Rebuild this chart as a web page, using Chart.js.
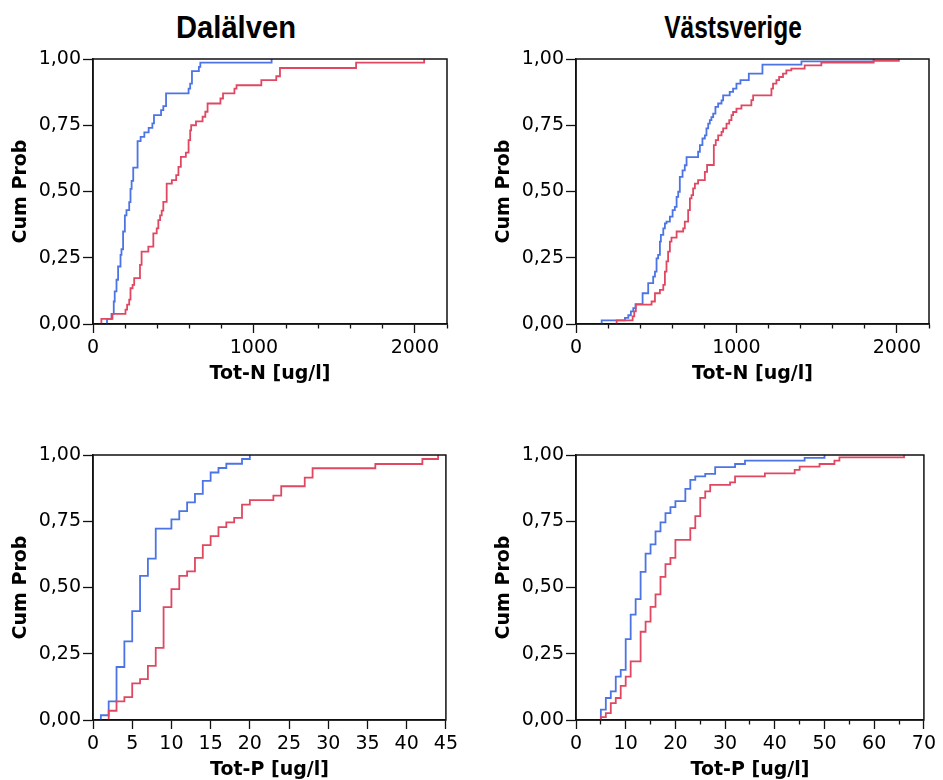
<!DOCTYPE html>
<html>
<head>
<meta charset="utf-8">
<script src="https://cdn.jsdelivr.net/npm/chart.js@4.4.1/dist/chart.umd.min.js"></script>
<style>
  body { margin: 0; background: #fff; width: 943px; height: 780px; position: relative; overflow: hidden; }
  canvas { position: absolute; }
  .ttl { position: absolute; top: 10px; white-space: nowrap; font: bold 31px "Liberation Sans", Arial, sans-serif; color: #000;
         transform-origin: 50% 50%; }
</style>
</head>
<body>
<div class="ttl" id="t1" style="left:236px;transform:translateX(-50%) scaleX(0.94)"></div>
<div class="ttl" id="t2" style="left:733px;transform:translateX(-50%) scaleX(0.79)"></div>
<canvas id="c1" width="462" height="350" style="left:0px;top:40px"></canvas>
<canvas id="c2" width="460" height="350" style="left:480px;top:40px"></canvas>
<canvas id="c3" width="462" height="350" style="left:0px;top:436px"></canvas>
<canvas id="c4" width="460" height="350" style="left:480px;top:436px"></canvas>
<script>
// ---------- texts ----------
const panelTitles = ['Dalälven', 'Västsverige'];
const yAxisTitle = 'Cum Prob';
const nAxisTitle = 'Tot-N [ug/l]';
const pAxisTitle = 'Tot-P [ug/l]';

// ---------- ticks ----------
const yTicks = [0, 0.25, 0.5, 0.75, 1];
const nTicks = [0, 200, 400, 600, 800, 1000, 1200, 1400, 1600, 1800, 2000, 2200];
const nTickLabels = [0, 1000, 2000];
const pDalTicks = [0, 5, 10, 15, 20, 25, 30, 35, 40, 45];
const pDalTickLabels = [0, 5, 10, 15, 20, 25, 30, 35, 40, 45];
const pVastTicks = [0, 5, 10, 15, 20, 25, 30, 35, 40, 45, 50, 55, 60, 65, 70];
const pVastTickLabels = [0, 10, 20, 30, 40, 50, 60, 70];

// ---------- Dalälven Tot-N ----------
const dalN_blue_x = [87, 87, 115, 129, 135, 146, 156, 171, 177, 187, 198, 208, 225, 233, 240, 250, 277, 296, 319, 346, 369, 379, 423, 437, 454, 594, 604, 615, 658, 667, 1110];
const dalN_blue_y = [0, 0.019, 0.038, 0.085, 0.123, 0.167, 0.217, 0.261, 0.282, 0.349, 0.41, 0.43, 0.46, 0.51, 0.54, 0.59, 0.69, 0.706, 0.723, 0.74, 0.757, 0.788, 0.807, 0.822, 0.87, 0.888, 0.907, 0.954, 0.97, 0.986, 1.0];
const dalN_red_x = [52, 52, 121, 202, 212, 225, 233, 246, 256, 292, 302, 344, 375, 396, 406, 417, 427, 437, 458, 490, 517, 531, 546, 577, 594, 604, 610, 640, 681, 698, 712, 792, 808, 879, 892, 1046, 1139, 1162, 1635, 2058];
const dalN_red_y = [0, 0.019, 0.038, 0.054, 0.073, 0.092, 0.135, 0.148, 0.173, 0.223, 0.273, 0.292, 0.342, 0.361, 0.392, 0.41, 0.428, 0.461, 0.53, 0.543, 0.562, 0.593, 0.631, 0.647, 0.694, 0.731, 0.75, 0.765, 0.782, 0.801, 0.832, 0.851, 0.87, 0.888, 0.901, 0.92, 0.935, 0.966, 0.986, 1.0];

// ---------- Västsverige Tot-N ----------
const vastN_blue_x = [160, 160, 305, 326, 342, 357, 371, 415, 450, 481, 492, 502, 512, 523, 529, 544, 554, 564, 585, 602, 616, 627, 637, 647, 664, 678, 689, 761, 772, 788, 803, 813, 824, 834, 844, 855, 869, 886, 907, 917, 958, 979, 1000, 1025, 1077, 1162, 1405, 1855];
const vastN_blue_y = [0, 0.014, 0.023, 0.033, 0.048, 0.06, 0.075, 0.116, 0.154, 0.179, 0.198, 0.248, 0.261, 0.311, 0.336, 0.361, 0.38, 0.386, 0.405, 0.43, 0.442, 0.48, 0.499, 0.555, 0.58, 0.599, 0.63, 0.65, 0.675, 0.7, 0.712, 0.738, 0.756, 0.769, 0.781, 0.794, 0.819, 0.832, 0.844, 0.863, 0.876, 0.888, 0.907, 0.92, 0.945, 0.979, 0.991, 1.0];
const vastN_red_x = [253, 253, 353, 363, 373, 471, 492, 523, 544, 554, 564, 574, 585, 595, 627, 668, 678, 699, 710, 720, 730, 741, 761, 803, 817, 859, 871, 886, 907, 917, 938, 955, 969, 979, 1000, 1031, 1093, 1104, 1218, 1228, 1249, 1266, 1290, 1311, 1342, 1425, 1529, 1855, 2012];
const vastN_red_y = [0, 0.014, 0.029, 0.048, 0.073, 0.085, 0.116, 0.129, 0.148, 0.198, 0.236, 0.273, 0.311, 0.326, 0.349, 0.361, 0.386, 0.43, 0.474, 0.486, 0.512, 0.53, 0.543, 0.574, 0.6, 0.675, 0.694, 0.712, 0.725, 0.738, 0.756, 0.769, 0.788, 0.8, 0.813, 0.825, 0.845, 0.863, 0.888, 0.907, 0.92, 0.932, 0.945, 0.957, 0.964, 0.976, 0.986, 0.993, 1.0];

// ---------- Dalälven Tot-P ----------
const dalP_blue_x = [1, 1, 2, 3, 4, 5, 6, 7, 8, 10, 11, 12, 13, 14, 15, 16, 17, 19, 20];
const dalP_blue_y = [0, 0.018, 0.07, 0.2, 0.297, 0.411, 0.544, 0.609, 0.722, 0.757, 0.788, 0.821, 0.853, 0.902, 0.934, 0.951, 0.967, 0.985, 1.0];
const dalP_red_x = [2, 2, 3, 4, 5, 6, 7, 8, 9, 10, 11, 12, 13, 14, 15, 16, 17, 18, 19, 20, 23, 24, 27, 28, 36, 42, 44];
const dalP_red_y = [0, 0.035, 0.07, 0.086, 0.138, 0.154, 0.204, 0.272, 0.426, 0.494, 0.544, 0.561, 0.612, 0.66, 0.694, 0.728, 0.746, 0.763, 0.813, 0.83, 0.847, 0.882, 0.915, 0.95, 0.966, 0.985, 1.0];

// ---------- Västsverige Tot-P ----------
const vastP_blue_x = [5, 5, 6, 7, 8, 9, 10, 11, 12, 13, 14, 15, 16, 17, 18, 19, 20, 22, 23, 24, 26, 28, 32, 34, 46, 50];
const vastP_blue_y = [0, 0.039, 0.083, 0.108, 0.164, 0.189, 0.305, 0.398, 0.456, 0.559, 0.628, 0.663, 0.712, 0.746, 0.781, 0.803, 0.826, 0.872, 0.906, 0.919, 0.929, 0.954, 0.966, 0.979, 0.989, 1.0];
const vastP_red_x = [5, 5, 6, 7, 8, 9, 10, 11, 13, 14, 15, 16, 17, 18, 19, 20, 23, 24, 25, 26, 27, 31, 32, 38, 44, 45, 49, 52, 53, 66];
const vastP_red_y = [0, 0.011, 0.026, 0.064, 0.083, 0.129, 0.164, 0.221, 0.333, 0.371, 0.427, 0.474, 0.54, 0.588, 0.612, 0.68, 0.724, 0.769, 0.838, 0.863, 0.887, 0.897, 0.919, 0.931, 0.944, 0.956, 0.966, 0.979, 0.991, 1.0];

// ---------- styling ----------
const BLUE = 'rgb(76,116,228)';
const RED = 'rgb(224,72,98)';
const FONT = '"DejaVu Sans", "Noto Sans", sans-serif';

document.getElementById('t1').textContent = panelTitles[0];
document.getElementById('t2').textContent = panelTitles[1];

function pts(xs, ys) { return xs.map((x, i) => ({ x: x, y: ys[i] })); }

const boxPlugin = {
  id: 'plotBox',
  afterDraw(chart) {
    const { ctx, chartArea: a } = chart;
    ctx.save();
    ctx.strokeStyle = '#111';
    ctx.lineWidth = 1.5;
    ctx.strokeRect(a.left, a.top, a.right - a.left, a.bottom - a.top);
    ctx.restore();
  }
};

function makeChart(id, o) {
  return new Chart(document.getElementById(id), {
    type: 'line',
    data: {
      datasets: [
        { data: pts(o.rx, o.ry), borderColor: RED },
        { data: pts(o.bx, o.by), borderColor: BLUE }
      ]
    },
    options: {
      responsive: false,
      animation: false,
      devicePixelRatio: 1,
      layout: { padding: { top: 19, right: o.padR, left: 0, bottom: 0 } },
      plugins: { legend: { display: false }, tooltip: { enabled: false } },
      elements: {
        point: { radius: 0, hoverRadius: 0 },
        line: { borderWidth: 1.8, stepped: 'before', tension: 0, fill: false }
      },
      scales: {
        x: {
          type: 'linear',
          min: o.xTicks[0],
          max: o.xTicks[o.xTicks.length - 1],
          afterBuildTicks: s => { s.ticks = o.xTicks.map(v => ({ value: v })); },
          afterFit: s => { s.height = 66; },
          ticks: {
            autoSkip: false, maxRotation: 0, minRotation: 0,
            color: '#000', padding: 4,
            font: { family: FONT, size: 19 },
            callback: v => (o.xLabels.indexOf(v) >= 0 ? String(v) : '')
          },
          grid: {
            drawOnChartArea: false, drawTicks: true, tickLength: 9,
            tickColor: '#111', tickWidth: 1.3,
            tickBorderDash: c => (c.tick && o.xLabels.indexOf(c.tick.value) >= 0) ? [] : [4, 40]
          },
          border: { display: true, color: '#111', width: 1.5 },
          title: {
            display: true, text: o.xTitle, color: '#000',
            font: { family: FONT, size: 19, weight: 'bold' },
            padding: { top: 2, bottom: 5 }
          }
        },
        y: {
          min: 0, max: 1,
          afterBuildTicks: s => { s.ticks = yTicks.map(v => ({ value: v })); },
          afterFit: s => { s.width = o.yW; },
          ticks: {
            color: '#000', padding: 2,
            font: { family: FONT, size: 19 },
            callback: v => Number(v).toFixed(2).replace('.', ',')
          },
          grid: { drawOnChartArea: false, drawTicks: true, tickLength: 10, tickColor: '#111', tickWidth: 1.3 },
          border: { display: true, color: '#111', width: 1.5 },
          title: {
            display: true, text: yAxisTitle, color: '#000',
            font: { family: FONT, size: 19, weight: 'bold' },
            padding: { top: o.yTitlePad, bottom: 0 }
          }
        }
      }
    },
    plugins: [boxPlugin]
  });
}

makeChart('c1', { bx: dalN_blue_x, by: dalN_blue_y, rx: dalN_red_x, ry: dalN_red_y,
  xTicks: nTicks, xLabels: nTickLabels, xTitle: nAxisTitle, yW: 93, padR: 15, yTitlePad: 10 });
makeChart('c2', { bx: vastN_blue_x, by: vastN_blue_y, rx: vastN_red_x, ry: vastN_red_y,
  xTicks: nTicks, xLabels: nTickLabels, xTitle: nAxisTitle, yW: 96, padR: 11, yTitlePad: 13 });
makeChart('c3', { bx: dalP_blue_x, by: dalP_blue_y, rx: dalP_red_x, ry: dalP_red_y,
  xTicks: pDalTicks, xLabels: pDalTickLabels, xTitle: pAxisTitle, yW: 93, padR: 16, yTitlePad: 10 });
makeChart('c4', { bx: vastP_blue_x, by: vastP_blue_y, rx: vastP_red_x, ry: vastP_red_y,
  xTicks: pVastTicks, xLabels: pVastTickLabels, xTitle: pAxisTitle, yW: 96, padR: 11, yTitlePad: 13 });
</script>
</body>
</html>
